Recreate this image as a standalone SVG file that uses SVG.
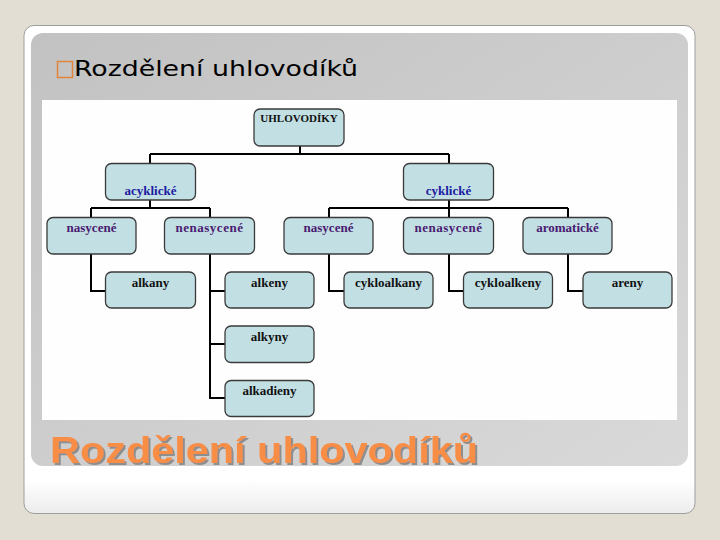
<svg xmlns="http://www.w3.org/2000/svg" width="720" height="540" viewBox="0 0 720 540">
<defs>
<linearGradient id="panel" x1="0" y1="0" x2="1" y2="1">
<stop offset="0" stop-color="#C2C2C2"/>
<stop offset="1" stop-color="#D9D9D9"/>
</linearGradient>
<linearGradient id="cardShade" x1="0" y1="0" x2="0" y2="1">
<stop offset="0" stop-color="#FFFFFF"/>
<stop offset="0.93" stop-color="#FFFFFF"/>
<stop offset="1" stop-color="#ECECEC"/>
</linearGradient>
<filter id="shadow" x="-5%" y="-20%" width="110%" height="140%">
<feOffset in="SourceAlpha" dx="2" dy="2" result="off"/>
<feFlood flood-color="#8E8E8E"/>
<feComposite in2="off" operator="in" result="sh"/>
<feMerge><feMergeNode in="sh"/><feMergeNode in="SourceGraphic"/></feMerge>
</filter>
<style>
.node rect{fill:#C2E0E4;stroke:#3A3A3A;stroke-width:1.3}
.t{font-family:"Liberation Serif","Times New Roman",serif;font-size:13px;text-anchor:middle;font-weight:bold}
.root{font-size:11px;fill:#111}
.l1{fill:#1C1CA0}
.l2{fill:#4A1A72}
.l3{fill:#111}
#connectors path{fill:none;stroke:#000;stroke-width:2}
</style>
</defs>
<rect x="0" y="0" width="720" height="540" fill="#E3DED4"/>
<rect x="24" y="25.5" width="671" height="488" rx="10" fill="url(#cardShade)" stroke="#9E9E9E" stroke-width="1"/>
<rect x="31" y="33" width="657" height="433" rx="12" fill="url(#panel)"/>
<rect x="57.5" y="61.5" width="15" height="16" fill="none" stroke="#E0853A" stroke-width="1.5"/>
<text x="74" y="76" font-family="DejaVu Sans Condensed,DejaVu Sans,sans-serif" font-size="22" fill="#000" textLength="284" lengthAdjust="spacingAndGlyphs">Rozdělení uhlovodíků</text>
<rect x="42" y="100" width="635" height="320" fill="#FDFEFD"/>

<g id="connectors">
<path d="M300 146V154M150 154H449M150 154V164M449 154V164"/>
<path d="M150 200V208M91 208H210M91 208V218M210 208V218"/>
<path d="M449 200V208M329 208H568M329 208V218M449 208V218M568 208V218"/>
<path d="M91 254V291H105"/>
<path d="M210 254V398H225M210 291H225M210 344H225"/>
<path d="M329 254V291H344"/>
<path d="M449 254V291H463"/>
<path d="M568 254V291H583"/>
</g>

<g id="n-uhlovodiky" class="node"><rect x="254" y="109" width="90" height="37" rx="6"/><text class="t root" x="299" y="122">UHLOVODÍKY</text></g>
<g id="n-acyklicke" class="node"><rect x="105.5" y="163.5" width="90" height="36.5" rx="6"/><text class="t l1" x="150.5" y="195">acyklické</text></g>
<g id="n-cyklicke" class="node"><rect x="403.5" y="163.5" width="90" height="36.5" rx="6"/><text class="t l1" x="448.5" y="195">cyklické</text></g>
<g id="n-nasycene1" class="node"><rect x="47" y="217.5" width="89" height="36.5" rx="6"/><text class="t l2" x="91.5" y="232">nasycené</text></g>
<g id="n-nenasycene1" class="node"><rect x="164.5" y="217.5" width="90" height="36.5" rx="6"/><text class="t l2" x="209.5" y="232" letter-spacing="0.5">nenasycené</text></g>
<g id="n-nasycene2" class="node"><rect x="284" y="217.5" width="89" height="36.5" rx="6"/><text class="t l2" x="328.5" y="232">nasycené</text></g>
<g id="n-nenasycene2" class="node"><rect x="403.5" y="217.5" width="90" height="36.5" rx="6"/><text class="t l2" x="448.5" y="232" letter-spacing="0.5">nenasycené</text></g>
<g id="n-aromaticke" class="node"><rect x="523" y="217.5" width="89" height="36.5" rx="6"/><text class="t l2" x="567.5" y="232">aromatické</text></g>
<g id="n-alkany" class="node"><rect x="105.5" y="272" width="90" height="36" rx="6"/><text class="t l3" x="150.5" y="287">alkany</text></g>
<g id="n-alkeny" class="node"><rect x="225" y="272" width="89" height="36" rx="6"/><text class="t l3" x="269.5" y="287">alkeny</text></g>
<g id="n-alkyny" class="node"><rect x="225" y="326" width="89" height="36.5" rx="6"/><text class="t l3" x="269.5" y="341">alkyny</text></g>
<g id="n-alkadieny" class="node"><rect x="225" y="380.5" width="89" height="36" rx="6"/><text class="t l3" x="269.5" y="395">alkadieny</text></g>
<g id="n-cykloalkany" class="node"><rect x="344" y="272" width="89" height="36" rx="6"/><text class="t l3" x="388.5" y="287">cykloalkany</text></g>
<g id="n-cykloalkeny" class="node"><rect x="463.5" y="272" width="89" height="36" rx="6"/><text class="t l3" x="508" y="287">cykloalkeny</text></g>
<g id="n-areny" class="node"><rect x="583" y="272" width="89" height="36" rx="6"/><text class="t l3" x="627.5" y="287">areny</text></g>

<text x="50" y="463" font-family="Liberation Sans,Arial,sans-serif" font-weight="bold" font-size="36" fill="#F88D45" textLength="428" lengthAdjust="spacingAndGlyphs" filter="url(#shadow)">Rozdělení uhlovodíků</text>
</svg>
